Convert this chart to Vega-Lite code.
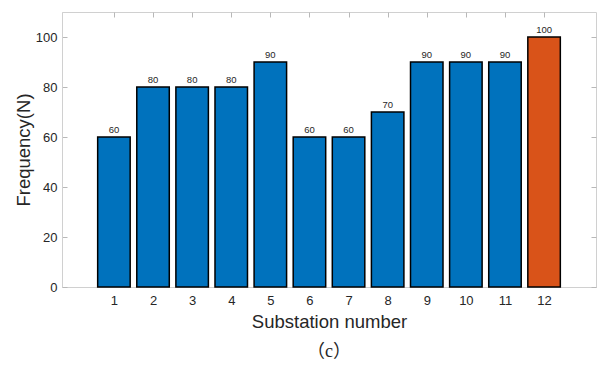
{
  "$schema": "https://vega.github.io/schema/vega-lite/v6.json",
  "width": 534,
  "height": 275,
  "autosize": "none",
  "padding": {"left": 62, "top": 12, "right": 7, "bottom": 82},
  "background": "white",
  "title": {"text": "（c）", "orient": "bottom", "font": "'Liberation Serif', 'Noto Sans CJK SC', serif", "fontSize": 18, "fontWeight": "normal", "color": "#262626", "offset": 12, "anchor": "middle"},
  "config": {
    "view": {"stroke": "#d0d0d0", "strokeWidth": 1},
    "axis": {
      "labelFont": "Liberation Sans",
      "titleFont": "Liberation Sans",
      "labelFontSize": 13,
      "titleFontSize": 18.5,
      "titleFontWeight": "normal",
      "labelColor": "#262626",
      "titleColor": "#262626",
      "domainColor": "#d0d0d0",
      "tickColor": "#b8b8b8",
      "grid": false
    }
  },
  "data": {"values": [
    {"station": 1, "freq": 60, "group": "other"},
    {"station": 2, "freq": 80, "group": "other"},
    {"station": 3, "freq": 80, "group": "other"},
    {"station": 4, "freq": 80, "group": "other"},
    {"station": 5, "freq": 90, "group": "other"},
    {"station": 6, "freq": 60, "group": "other"},
    {"station": 7, "freq": 60, "group": "other"},
    {"station": 8, "freq": 70, "group": "other"},
    {"station": 9, "freq": 90, "group": "other"},
    {"station": 10, "freq": 90, "group": "other"},
    {"station": 11, "freq": 90, "group": "other"},
    {"station": 12, "freq": 100, "group": "max"}
  ]},
  "layer": [
    {
      "mark": {"type": "bar", "size": 32.5, "stroke": "black", "strokeWidth": 1.5},
      "encoding": {
        "x": {"field": "station", "type": "quantitative",
              "scale": {"domain": [-0.2, 13.2], "nice": false, "zero": false},
              "axis": {"values": [1,2,3,4,5,6,7,8,9,10,11,12], "tickSize": -5, "labelPadding": 12, "title": "Substation number", "titlePadding": 5}},
        "y": {"field": "freq", "type": "quantitative",
              "scale": {"domain": [0, 110], "nice": false},
              "axis": {"values": [0,20,40,60,80,100], "tickSize": -5, "labelPadding": 10, "title": "Frequency(N)", "titlePadding": 2}},
        "color": {"field": "group", "type": "nominal", "scale": {"domain": ["other", "max"], "range": ["#0072BD", "#D95319"]}, "legend": null}
      }
    },
    {
      "mark": {"type": "text", "baseline": "bottom", "dy": -2, "fontSize": 9.5, "font": "Liberation Sans", "color": "#262626"},
      "encoding": {
        "x": {"field": "station", "type": "quantitative", "axis": {"orient": "top", "values": [1,2,3,4,5,6,7,8,9,10,11,12], "labels": false, "tickSize": -5, "title": null, "domain": false}},
        "y": {"field": "freq", "type": "quantitative", "axis": {"orient": "right", "values": [0,20,40,60,80,100], "labels": false, "tickSize": -5, "title": null, "domain": false}},
        "text": {"field": "freq", "type": "quantitative"}
      }
    }
  ],
  "resolve": {"axis": {"x": "independent", "y": "independent"}}
}
